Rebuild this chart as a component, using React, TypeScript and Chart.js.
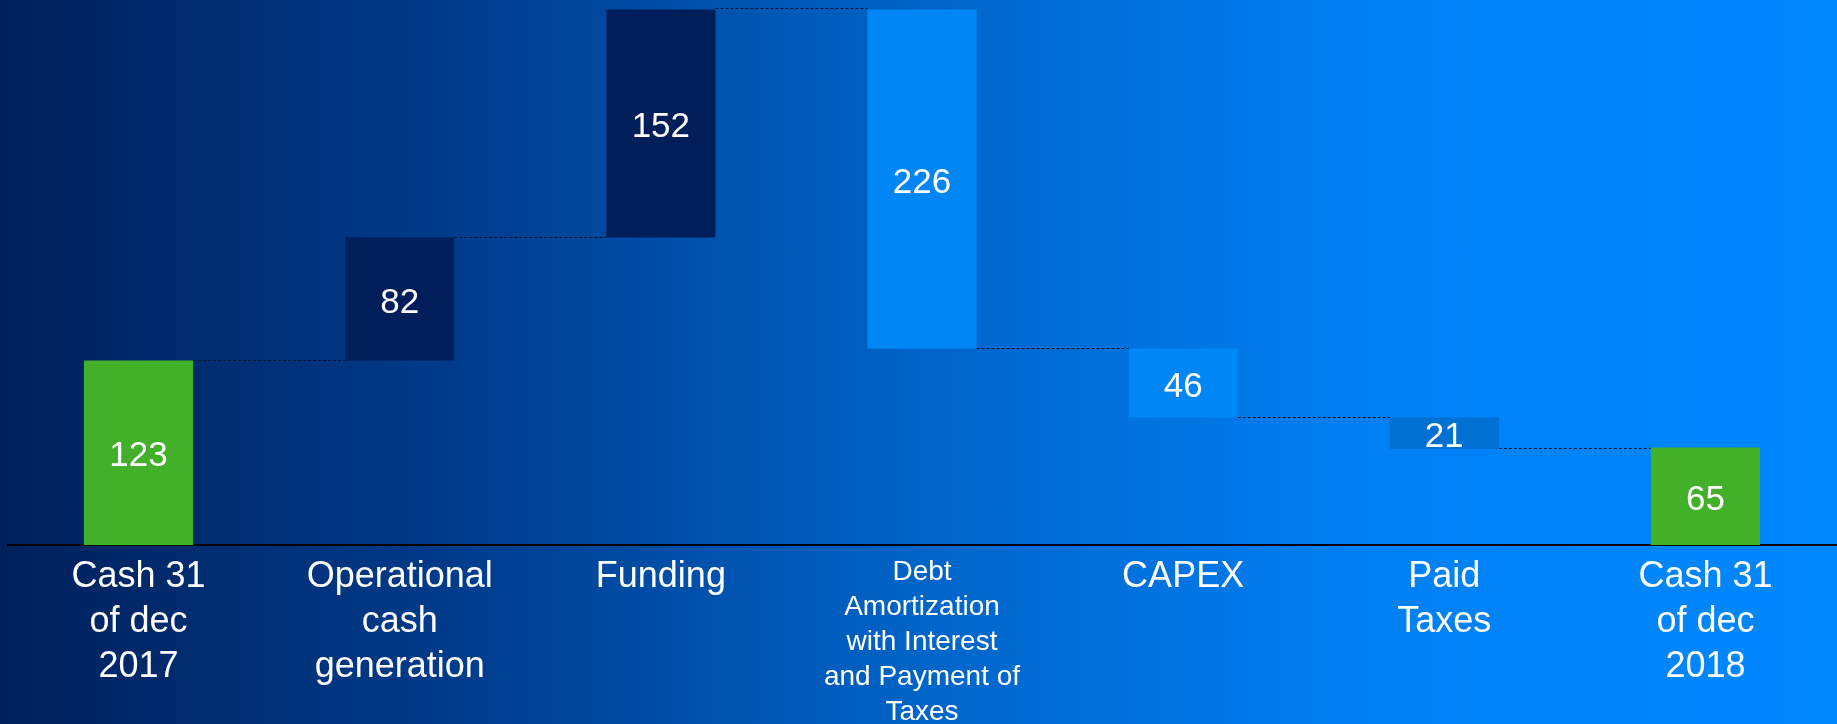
import React, { useEffect, useRef } from "react";
import { Chart, registerables } from "chart.js";

Chart.register(...registerables);

const categories: (string | string[])[] = [
  ["Cash 31", "of dec", "2017"],
  ["Operational", "cash", "generation"],
  "Funding",
  ["Debt", "Amortization", "with Interest", "and Payment of", "Taxes"],
  "CAPEX",
  ["Paid", "Taxes"],
  ["Cash 31", "of dec", "2018"],
];

// step values: first and last are totals, others are changes
const stepValues = [123, 82, 152, -226, -46, -21, 65];
const stepKinds = ["total", "delta", "delta", "delta", "delta", "delta", "total"];
const barColors = ["#43B02A", "#001E5A", "#001E5A", "#0086F5", "#0086F5", "#0070D2", "#43B02A"];

const FONT = "'Liberation Sans', Arial, sans-serif";

export default function App() {
  const ref = useRef<HTMLCanvasElement | null>(null);

  useEffect(() => {
    if (!ref.current) return;
    const ranges: [number, number][] = [];
    const levels: number[] = [];
    let cum = 0;
    stepValues.forEach((v, i) => {
      if (stepKinds[i] === "total") {
        ranges.push([0, v]);
        cum = v;
      } else {
        const next = cum + v;
        ranges.push([Math.min(cum, next), Math.max(cum, next)]);
        cum = next;
      }
      levels.push(cum);
    });

    const connectors = {
      id: "connectors",
      afterDatasetsDraw(chart: any) {
        const meta = chart.getDatasetMeta(0);
        const y = chart.scales.y;
        const ctx = chart.ctx;
        ctx.save();
        ctx.strokeStyle = "#08152e";
        ctx.lineWidth = 1;
        ctx.setLineDash([3, 2]);
        for (let i = 0; i < meta.data.length - 1; i++) {
          const a = meta.data[i] as any;
          const b = meta.data[i + 1] as any;
          const py = Math.round(y.getPixelForValue(levels[i])) - 0.5;
          ctx.beginPath();
          ctx.moveTo(a.x + a.width / 2, py);
          ctx.lineTo(b.x - b.width / 2, py);
          ctx.stroke();
        }
        ctx.restore();
      },
    };

    const valueLabels = {
      id: "valueLabels",
      afterDatasetsDraw(chart: any) {
        const meta = chart.getDatasetMeta(0);
        const ctx = chart.ctx;
        ctx.save();
        ctx.fillStyle = "#ffffff";
        ctx.font = `35px ${FONT}`;
        ctx.textAlign = "center";
        ctx.textBaseline = "middle";
        meta.data.forEach((el: any, i: number) => {
          const cy = (el.y + el.base) / 2;
          ctx.fillText(String(Math.abs(stepValues[i])), el.x, cy + 4);
        });
        ctx.restore();
      },
    };

    const chart = new Chart(ref.current, {
      type: "bar",
      data: {
        labels: categories as any,
        datasets: [
          {
            data: ranges as any,
            backgroundColor: barColors,
            borderWidth: 0,
            categoryPercentage: 1,
            barPercentage: 0.418,
          },
        ],
      },
      options: {
        responsive: false,
        animation: false,
        layout: { padding: { top: 5, left: 8, right: 1, bottom: 0 } },
        plugins: {
          legend: { display: false },
          tooltip: { enabled: false },
          title: { display: false },
        },
        scales: {
          x: {
            grid: { display: false },
            border: { display: true, color: "#000000", width: 2 },
            afterFit: (scale: any) => {
              scale.height = 179;
            },
            ticks: {
              color: "#ffffff",
              autoSkip: false,
              maxRotation: 0,
              minRotation: 0,
              padding: 2,
              font: (ctx: any) =>
                ctx.index === 3
                  ? { size: 28, family: FONT, lineHeight: 1.25 }
                  : { size: 36, family: FONT, lineHeight: 1.24 },
            },
          },
          y: {
            display: false,
            min: 0,
            max: 360,
          },
        },
      },
      plugins: [connectors, valueLabels],
    });
    return () => chart.destroy();
  }, []);

  return (
    <div
      style={{
        position: "fixed",
        left: 0,
        top: 0,
        width: 1837,
        height: 724,
        background:
          "linear-gradient(to right, #00205B 0%, #003C8C 25%, #0064C8 50%, #0080F5 75%, #0088FF 100%)",
      }}
    >
      <canvas ref={ref} width={1837} height={724} style={{ display: "block" }} />
    </div>
  );
}
